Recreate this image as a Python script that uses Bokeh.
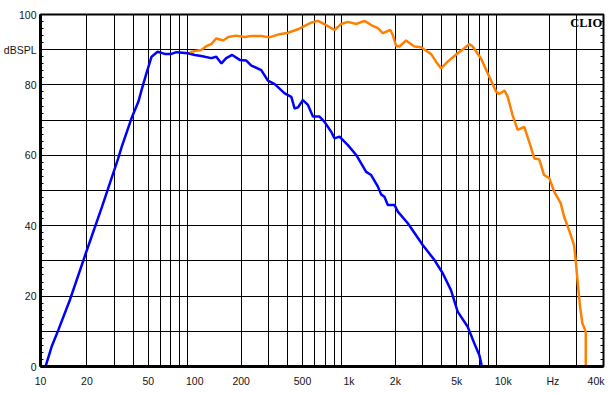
from bokeh.plotting import figure
from bokeh.models import Range1d, FixedTicker, LinearAxis, Label
from bokeh.embed import file_html
from bokeh.resources import INLINE

# ---- data ----
freq_blue = [10.85, 11.8, 13.06, 15.5, 20, 25, 31.9, 33.6, 38.9, 43.1, 45.2, 48.6,
             52.5, 57.4, 64, 70.6, 76.1, 90.6, 100, 110, 128, 138, 149, 160, 175,
             196, 216, 233, 270, 298, 330, 383, 423, 444, 467, 503, 542, 584, 644,
             694, 767, 806, 868, 984, 1114, 1200, 1292, 1393, 1540, 1616, 1698,
             1786, 1972, 2074, 2407, 3008, 3575, 4054, 4585, 5067, 5884, 6493,
             6995, 7248]
db_blue = [0.4, 5.6, 10.4, 18.9, 33.1, 45.3, 59.1, 62.4, 70.5, 75.2, 78.5, 83.3,
           88.0, 89.4, 88.8, 88.8, 89.3, 89.0, 88.5, 88.2, 87.6, 88.0, 86.1, 87.6,
           88.5, 87.1, 86.9, 85.5, 84.2, 81.2, 80.2, 77.6, 76.6, 73.3, 73.6, 75.7,
           74.3, 71.0, 71.0, 69.5, 66.7, 64.8, 65.3, 62.9, 60.1, 57.7, 55.3, 54.4,
           51.1, 48.9, 48.2, 45.9, 45.9, 44.0, 40.7, 34.5, 30.3, 26.5, 21.7, 15.6,
           11.3, 6.6, 3.3, 0.4]

freq_orange = [93, 100, 110, 119, 128, 138, 153, 165, 185, 210, 233, 270, 305, 347,
               402, 467, 528, 569, 629, 678, 749, 806, 891, 984, 1114, 1260, 1393,
               1540, 1657, 1857, 1923, 2022, 2125, 2345, 2655, 2932, 3404, 3667,
               3953, 4368, 5067, 5596, 6031, 6339, 7178, 8124, 8982, 9428, 10200,
               10700, 11500, 12400, 13700, 15100, 15900, 17100, 18400, 19900,
               21400, 23600, 24800, 26700, 28800, 29500, 30300, 31500, 32600,
               34300, 34300]
db_orange = [89.3, 89.6, 89.9, 91.0, 91.6, 93.2, 92.6, 93.6, 94.0, 93.6, 93.9, 93.9,
             93.5, 94.3, 94.8, 95.8, 97.0, 97.7, 98.2, 97.5, 96.4, 95.6, 97.3, 97.9,
             97.3, 98.2, 97.0, 96.1, 94.7, 95.6, 94.2, 91.1, 90.9, 92.6, 90.9, 90.7,
             88.8, 86.6, 84.7, 86.6, 89.0, 90.4, 91.6, 90.9, 87.5, 82.3, 78.1, 77.4,
             78.4, 76.6, 71.4, 67.2, 68.1, 62.4, 59.1, 58.9, 54.4, 53.5, 49.7, 46.4,
             42.6, 38.8, 34.5, 30.3, 24.6, 17.0, 12.3, 9.9, 0.0]

x_grid = [20, 30, 40, 50, 60, 70, 80, 90,
          200, 300, 400, 500, 600, 700, 800, 900,
          2000, 3000, 4000, 5000, 6000, 7000, 8000, 9000,
          20000, 30000]
y_grid = [10, 20, 30, 40, 50, 60, 70, 80, 90]
y_minor = list(range(0, 101, 2))

x_label_pos = [10, 20, 50, 100, 200, 500, 1000, 2000, 5000, 10000, 21000, 40000]
x_label_text = ["10", "20", "50", "100", "200", "500", "1k", "2k", "5k", "10k",
                "Hz", "40k"]
y_label_pos = [0, 20, 40, 60, 80, 90, 100]
y_label_text = ["0", "20", "40", "60", "80", "dBSPL", "100"]

FONT = "Liberation Sans"
TXT = "#141414"

p = figure(width=609, height=391, x_axis_type="log",
           x_range=Range1d(10, 44700), y_range=Range1d(0, 100),
           output_backend="svg", toolbar_location=None,
           min_border_left=39, min_border_right=6,
           min_border_top=14, min_border_bottom=25)
p.background_fill_color = "white"
p.border_fill_color = "white"
p.outline_line_color = "black"
p.outline_line_width = 2

# grids
p.xgrid.ticker = FixedTicker(ticks=x_grid)
p.ygrid.ticker = FixedTicker(ticks=y_grid)
for g in (p.xgrid, p.ygrid):
    g.grid_line_color = "black"
    g.grid_line_width = 1
    g.grid_line_alpha = 1.0

# bottom axis
xa = p.xaxis[0]
xa.ticker = FixedTicker(ticks=x_label_pos)
xa.major_label_overrides = {k: v for k, v in zip(x_label_pos, x_label_text)}
xa.axis_line_width = 3
xa.axis_line_color = "black"
xa.major_tick_in = 0
xa.major_tick_out = 0
xa.minor_tick_in = 0
xa.minor_tick_out = 0
xa.major_label_text_font = FONT
xa.major_label_text_font_size = "10.5px"
xa.major_label_text_color = TXT
xa.major_label_standoff = 8

# left axis
ya = p.yaxis[0]
ya.ticker = FixedTicker(ticks=y_label_pos, minor_ticks=y_minor)
ya.major_label_overrides = {k: v for k, v in zip(y_label_pos, y_label_text)}
ya.axis_line_width = 3
ya.axis_line_color = "black"
ya.major_tick_in = 4
ya.major_tick_out = 0
ya.minor_tick_in = 3
ya.minor_tick_out = 0
ya.major_tick_line_color = "black"
ya.minor_tick_line_color = "black"
ya.major_label_text_font = FONT
ya.major_label_text_font_size = "10.5px"
ya.major_label_text_color = TXT
ya.major_label_standoff = 4

# right axis: inward minor ticks only
ra = LinearAxis(ticker=FixedTicker(ticks=[], minor_ticks=y_minor))
ra.axis_line_width = 1
ra.axis_line_color = "black"
ra.major_tick_in = 0
ra.major_tick_out = 0
ra.minor_tick_in = 3
ra.minor_tick_out = 0
ra.minor_tick_line_color = "black"
ra.major_label_standoff = 0
p.add_layout(ra, "right")

# curves
p.line(freq_blue, db_blue, line_color="#0000FF", line_width=2.5)
p.line(freq_orange, db_orange, line_color="#FF8000", line_width=2.5)

p.add_layout(Label(x=43800, y=99.6, text="CLIO", text_align="right",
                   text_baseline="top", text_font="Liberation Serif",
                   text_font_style="bold", text_font_size="12.5px",
                   text_color="black"))

open("out.html", "w").write(file_html(p, INLINE))
